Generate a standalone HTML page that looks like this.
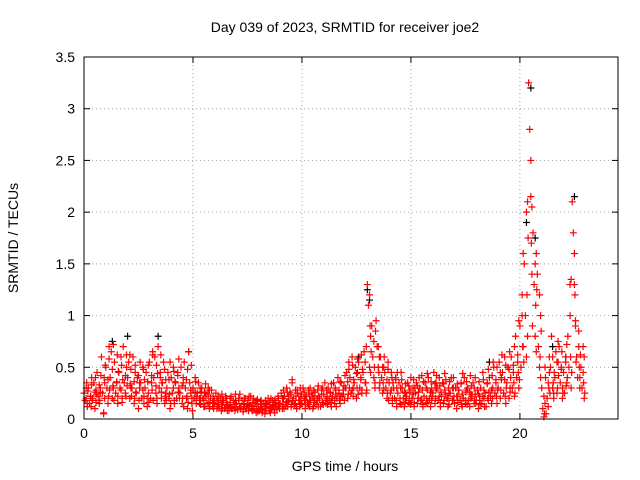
<!DOCTYPE html>
<html><head><meta charset="utf-8"><style>
body{margin:0;background:#fff;}
svg{display:block;font-family:"Liberation Sans",sans-serif;}
</style></head><body>
<svg id="chart" width="640" height="480">
<text x="345" y="32" text-anchor="middle" font-size="14">Day 039 of 2023, SRMTID for receiver joe2</text>
<text x="345" y="471" text-anchor="middle" font-size="14">GPS time / hours</text>
<text transform="translate(18,238) rotate(-90)" text-anchor="middle" font-size="14">SRMTID / TECUs</text>
<g id="grid"></g>
<g id="ticks"></g>
<g id="black"></g>
<g id="red"></g>
<rect x="84" y="57" width="534" height="362" fill="none" stroke="#000"/>
</svg>
<script>
const xTicks=[0,5,10,15,20];
const yTicks=[0,0.5,1,1.5,2,2.5,3,3.5];
const yTickLabels=["0","0.5","1","1.5","2","2.5","3","3.5"];
const times=[0,0.2,0.4,0.6,0.8,1.0,1.2,1.4,1.6,1.8,2.0,2.2,2.4,2.6,2.8,3.0,3.2,3.4,3.6,3.8,4.0,4.2,4.4,4.6,4.8,5.0,5.2,5.4,5.6,5.8,6.0,6.2,6.4,6.6,6.8,7.0,7.2,7.4,7.6,7.8,8.0,8.2,8.4,8.6,8.8,9.0,9.2,9.4,9.6,9.8,10.0,10.2,10.4,10.6,10.8,11.0,11.2,11.4,11.6,11.8,12.0,12.2,12.4,12.6,12.8,13.0,13.2,13.4,13.6,13.8,14.0,14.2,14.4,14.6,14.8,15.0,15.2,15.4,15.6,15.8,16.0,16.2,16.4,16.6,16.8,17.0,17.2,17.4,17.6,17.8,18.0,18.2,18.4,18.6,18.8,19.0,19.2,19.4,19.6,19.8,20.0,20.2,20.4,20.6,20.8,21.0,21.2,21.4,21.6,21.8,22.0,22.2,22.4,22.6,22.8];
const redVals=[
[0.25,0.18,0.30,0.12],[0.30,0.15,0.22,0.40],[0.20,0.35,0.10,0.28],[0.45,0.22,0.15,0.30],[0.60,0.25,0.05,0.35],
[0.50,0.30,0.15,0.70],[0.40,0.65,0.20,0.30],[0.55,0.25,0.35,0.15],[0.45,0.30,0.60,0.20],[0.70,0.35,0.25,0.50],
[0.40,0.55,0.20,0.30],[0.30,0.60,0.15,0.45],[0.25,0.40,0.10,0.35],[0.35,0.20,0.50,0.15],[0.30,0.45,0.12,0.25],
[0.55,0.20,0.35,0.65],[0.40,0.60,0.25,0.15],[0.70,0.30,0.45,0.20],[0.35,0.55,0.15,0.25],[0.30,0.45,0.20,0.10],
[0.40,0.25,0.50,0.15],[0.35,0.20,0.45,0.30],[0.25,0.50,0.15,0.35],[0.55,0.30,0.20,0.10],[0.65,0.35,0.25,0.15],
[0.30,0.20,0.40,0.15],[0.25,0.35,0.15,0.20],[0.30,0.20,0.12,0.25],[0.22,0.15,0.30,0.10],[0.20,0.28,0.12,0.15],
[0.15,0.25,0.10,0.20],[0.12,0.20,0.08,0.16],[0.18,0.10,0.22,0.13],[0.14,0.08,0.20,0.11],[0.10,0.18,0.12,0.24],
[0.15,0.09,0.20,0.12],[0.12,0.18,0.07,0.14],[0.20,0.10,0.15,0.08],[0.13,0.22,0.09,0.16],[0.10,0.15,0.06,0.18],
[0.12,0.08,0.17,0.14],[0.09,0.15,0.05,0.12],[0.14,0.20,0.08,0.11],[0.10,0.18,0.13,0.06],[0.16,0.09,0.22,0.12],
[0.15,0.25,0.10,0.20],[0.22,0.12,0.30,0.17],[0.18,0.26,0.12,0.35],[0.20,0.14,0.28,0.10],[0.25,0.18,0.12,0.22],
[0.15,0.30,0.20,0.10],[0.22,0.16,0.28,0.12],[0.18,0.25,0.10,0.20],[0.26,0.14,0.20,0.32],[0.20,0.12,0.28,0.16],
[0.24,0.35,0.15,0.20],[0.30,0.18,0.25,0.12],[0.22,0.35,0.15,0.28],[0.20,0.40,0.25,0.15],[0.35,0.22,0.28,0.18],
[0.30,0.45,0.20,0.55],[0.40,0.25,0.60,0.30],[0.35,0.50,0.20,0.45],[0.55,0.30,0.40,0.25],[0.45,0.65,0.35,0.25],
[1.30,1.10,0.50,0.80],[0.90,0.60,0.40,0.30],[0.95,0.70,0.50,0.30],[0.60,0.40,0.25,0.50],[0.45,0.30,0.20,0.55],
[0.35,0.25,0.45,0.15],[0.30,0.20,0.40,0.12],[0.25,0.35,0.15,0.45],[0.30,0.20,0.12,0.25],[0.22,0.35,0.15,0.28],
[0.40,0.20,0.30,0.12],[0.25,0.35,0.15,0.20],[0.30,0.18,0.42,0.12],[0.22,0.35,0.15,0.28],[0.40,0.20,0.12,0.30],
[0.25,0.45,0.15,0.35],[0.30,0.18,0.40,0.12],[0.22,0.35,0.15,0.28],[0.38,0.20,0.12,0.25],[0.25,0.40,0.18,0.30],
[0.15,0.30,0.10,0.22],[0.28,0.18,0.35,0.12],[0.20,0.40,0.15,0.28],[0.30,0.18,0.12,0.24],[0.22,0.35,0.15,0.40],
[0.18,0.28,0.10,0.22],[0.30,0.15,0.45,0.20],[0.25,0.12,0.35,0.18],[0.40,0.22,0.15,0.30],[0.50,0.25,0.35,0.15],
[0.30,0.55,0.20,0.40],[0.45,0.25,0.60,0.15],[0.35,0.50,0.20,0.30],[0.60,0.30,0.45,0.22],[0.80,0.40,0.55,0.30],
[0.90,0.50,1.20,0.70],[1.50,1.00,0.60,2.10],[3.25,2.80,2.50,2.05],[1.80,1.30,0.80,1.60],[1.40,0.70,0.50,1.00],
[0.30,0.10,0.02,0.50],[0.05,0.20,0.35,0.60],[0.50,0.80,0.30,0.20],[0.40,0.65,0.25,0.55],[0.70,0.35,0.50,0.20],
[0.45,0.25,0.60,0.35],[0.80,0.50,1.30,0.30],[2.10,1.80,1.30,0.90],[0.60,0.40,0.85,0.30],[0.50,0.30,0.70,0.20]
];
const redVals2=[
[0.20,0.35,0.15,0.27],[0.22,0.12,0.33,0.18],[0.26,0.40,0.16,0.24],[0.33,0.18,0.26,0.42],[0.06,0.40,0.20,0.52],
[0.38,0.22,0.58,0.28],[0.48,0.32,0.72,0.18],[0.36,0.62,0.22,0.46],[0.28,0.52,0.16,0.38],[0.42,0.22,0.62,0.32],
[0.62,0.34,0.48,0.22],[0.36,0.20,0.52,0.26],[0.42,0.18,0.30,0.55],[0.28,0.48,0.22,0.38],[0.20,0.36,0.52,0.16],
[0.42,0.28,0.62,0.18],[0.32,0.52,0.20,0.44],[0.40,0.62,0.26,0.35],[0.48,0.22,0.38,0.18],[0.38,0.24,0.55,0.15],
[0.30,0.46,0.18,0.36],[0.42,0.26,0.58,0.20],[0.32,0.20,0.40,0.12],[0.38,0.22,0.48,0.16],[0.28,0.52,0.20,0.08],
[0.26,0.36,0.18,0.22],[0.20,0.30,0.14,0.26],[0.18,0.26,0.12,0.34],[0.24,0.16,0.28,0.12],[0.16,0.22,0.10,0.18],
[0.18,0.12,0.22,0.14],[0.14,0.24,0.10,0.18],[0.11,0.16,0.20,0.08],[0.16,0.12,0.22,0.10],[0.14,0.08,0.18,0.12],
[0.18,0.12,0.24,0.10],[0.09,0.15,0.20,0.12],[0.14,0.18,0.10,0.22],[0.12,0.08,0.16,0.20],[0.15,0.10,0.19,0.07],
[0.14,0.18,0.10,0.06],[0.12,0.18,0.08,0.15],[0.10,0.16,0.06,0.20],[0.14,0.09,0.18,0.12],[0.12,0.20,0.15,0.10],
[0.20,0.14,0.28,0.10],[0.16,0.26,0.12,0.22],[0.24,0.14,0.38,0.18],[0.15,0.22,0.12,0.28],[0.18,0.30,0.14,0.24],
[0.26,0.18,0.14,0.22],[0.14,0.24,0.18,0.30],[0.22,0.12,0.28,0.16],[0.18,0.28,0.12,0.22],[0.24,0.16,0.30,0.14],
[0.18,0.28,0.22,0.14],[0.26,0.16,0.34,0.20],[0.18,0.30,0.24,0.12],[0.28,0.18,0.36,0.22],[0.24,0.32,0.18,0.42],
[0.36,0.24,0.48,0.30],[0.28,0.52,0.22,0.38],[0.44,0.30,0.58,0.24],[0.38,0.62,0.28,0.48],[0.55,0.35,0.70,0.28],
[1.20,0.90,0.45,0.65],[0.75,0.50,0.35,0.85],[0.70,0.45,0.60,0.35],[0.50,0.35,0.28,0.60],[0.38,0.25,0.48,0.18],
[0.28,0.40,0.20,0.35],[0.38,0.18,0.30,0.45],[0.20,0.30,0.14,0.38],[0.26,0.16,0.34,0.20],[0.32,0.18,0.26,0.14],
[0.24,0.38,0.16,0.30],[0.32,0.20,0.26,0.40],[0.18,0.28,0.14,0.36],[0.30,0.20,0.44,0.16],[0.26,0.36,0.18,0.22],
[0.34,0.20,0.28,0.42],[0.22,0.32,0.16,0.26],[0.34,0.18,0.44,0.24],[0.20,0.30,0.14,0.36],[0.30,0.18,0.40,0.22],
[0.22,0.34,0.16,0.28],[0.34,0.14,0.24,0.44],[0.18,0.26,0.36,0.14],[0.26,0.42,0.20,0.32],[0.30,0.18,0.24,0.15],
[0.24,0.36,0.18,0.14],[0.22,0.38,0.28,0.12],[0.34,0.20,0.48,0.26],[0.28,0.42,0.20,0.55],[0.38,0.22,0.50,0.28],
[0.45,0.28,0.38,0.62],[0.38,0.22,0.52,0.30],[0.48,0.65,0.26,0.40],[0.52,0.35,0.70,0.25],[0.62,0.45,0.95,0.38],
[1.00,0.70,1.60,0.55],[2.00,1.20,0.80,1.75],[2.15,1.70,1.40,0.90],[1.50,1.10,0.65,1.25],[1.20,0.60,0.40,0.85],
[0.22,0.05,0.15,0.40],[0.12,0.30,0.45,0.25],[0.60,0.35,0.25,0.45],[0.55,0.30,0.75,0.42],[0.48,0.65,0.30,0.25],
[0.55,0.32,0.72,0.40],[1.00,0.60,1.35,0.45],[1.60,1.20,0.95,0.55],[0.70,0.50,0.40,0.62],[0.45,0.35,0.60,0.25]
];
const blackTimes=[1.3,2.0,3.4,4.8,12.6,13.0,13.1,18.6,20.3,20.5,20.7,21.5,22.1,22.5];
const blackVals=[0.75,0.80,0.80,0.65,0.60,1.25,1.15,0.55,1.90,3.20,1.75,0.70,0.60,2.15];
const X0=84,X1=618,Y0=419,Y1=57,XMAX=24.5,YMAX=3.5;
function xs(v){return X0+(X1-X0)*v/XMAX;}
function ys(v){return Y0-(Y0-Y1)*v/YMAX;}
const NS="http://www.w3.org/2000/svg";
function mk(tag,attrs,parent){const e=document.createElementNS(NS,tag);for(const k in attrs)e.setAttribute(k,attrs[k]);parent.appendChild(e);return e;}
const grid=document.getElementById('grid'),ticks=document.getElementById('ticks');
xTicks.forEach(t=>{const x=xs(t);
 if(t>0){const g=mk('line',{x1:x,x2:x,y1:Y1,y2:Y0,stroke:'#a0a0a0','stroke-dasharray':'1,3'},grid);}
 mk('line',{x1:x,x2:x,y1:Y0,y2:Y0-6,stroke:'#000'},ticks);mk('line',{x1:x,x2:x,y1:Y1,y2:Y1+6,stroke:'#000'},ticks);
 const l=mk('text',{x:x,y:Y0+19,'text-anchor':'middle','font-size':14},ticks);l.textContent=t;
 });
yTicks.forEach((t,i)=>{const y=ys(t);
 if(t>0&&t<YMAX){const g=mk('line',{x1:X0,x2:X1,y1:y,y2:y,stroke:'#a0a0a0','stroke-dasharray':'1,3'},grid);}
 mk('line',{x1:X0,x2:X0+6,y1:y,y2:y,stroke:'#000'},ticks);mk('line',{x1:X1,x2:X1-6,y1:y,y2:y,stroke:'#000'},ticks);
 const l=mk('text',{x:X0-9,y:y+5,'text-anchor':'end','font-size':14},ticks);l.textContent=yTickLabels[i];
 });
function plus(g,t,v,c){const x=xs(t),y=ys(v);
 const p=mk('path',{d:`M${x-3.5},${y}h7M${x},${y-3.5}v7`,stroke:c,'stroke-width':1.2,fill:'none'},g);
 
 }
const bg=document.getElementById('black'),rg=document.getElementById('red');
blackTimes.forEach((t,i)=>plus(bg,t,blackVals[i],'#000'));
times.forEach((t,i)=>{redVals[i].forEach((v,j)=>plus(rg,t+j*0.05,v,'#ff0000'));});
times.forEach((t,i)=>{redVals2[i].forEach((v,j)=>plus(rg,t+0.1+j*0.025,v,'#ff0000'));});
</script>
</body></html>
